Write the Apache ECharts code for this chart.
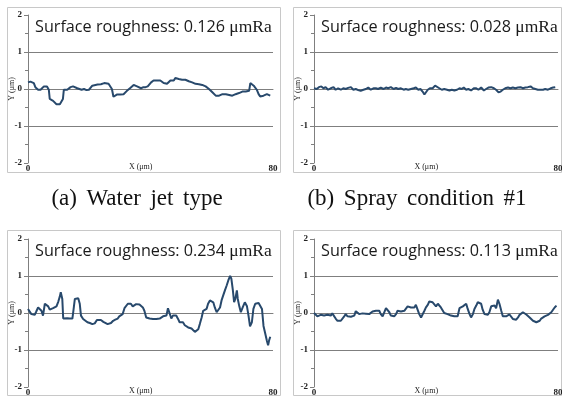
<!DOCTYPE html>
<html><head><meta charset="utf-8">
<script src="https://cdn.jsdelivr.net/npm/echarts@6/dist/echarts.min.js"></script>
<style>html,body{margin:0;padding:0;background:#fff}#c{width:562px;height:398px}</style>
</head><body><div id="c"></div>
<script>
// Panel texts
const roughnessLabels = ['0.126', '0.028', '0.234', '0.113'];
const captions = ['(a)\u2004\u200AWater\u2004\u200Ajet\u2004\u200Atype', '(b)\u2004\u200ASpray\u2004\u200Acondition\u2004\u200A#1'];
const xAxisName = 'X (μm)';
const yAxisName = 'Y (μm)';
const yTicks = [-2, -1, 0, 1, 2];
const xRange = [0, 80];

// Panel (a) water jet type
const xA = [0.0,0.8,1.3,1.9,2.4,3.3,4.1,4.6,5.2,5.7,6.2,6.8,7.1,7.7,8.2,8.8,9.3,9.9,10.4,11.0,11.4,11.7,12.3,12.8,13.4,13.9,14.7,15.3,16.1,16.7,17.5,18.3,19.1,19.9,20.5,21.0,21.6,22.7,23.8,24.3,24.9,25.4,26.3,26.9,27.4,27.9,28.5,29.0,29.6,30.1,30.7,31.2,31.8,32.3,32.9,33.4,34.0,34.5,35.1,35.6,36.2,36.9,37.7,38.4,39.1,39.7,40.2,41.0,41.5,42.1,42.6,43.2,43.7,44.3,44.8,45.4,45.9,46.5,47.0,47.6,48.1,48.7,49.2,49.8,50.3,50.9,51.4,52.0,52.5,53.0,53.6,54.1,54.7,55.2,55.8,56.3,56.9,57.4,58.0,58.5,59.1,59.6,60.2,60.7,61.3,61.8,62.4,62.9,63.5,64.0,64.6,65.1,65.7,66.2,66.7,67.3,67.8,68.4,68.9,69.5,70.0,70.6,71.1,71.7,72.2,72.6,73.1,73.7,74.2,74.7,75.3,75.8,76.4,76.9,77.5,78.0,78.6,79.1];
const yA = [0.18,0.20,0.20,0.16,0.05,-0.02,-0.02,0.00,0.07,0.12,0.07,-0.02,-0.27,-0.30,-0.32,-0.36,-0.41,-0.45,-0.41,-0.38,-0.27,-0.02,0.00,-0.02,0.02,0.05,0.07,0.05,0.02,0.00,-0.02,0.00,-0.03,-0.02,-0.05,0.09,0.12,0.12,0.13,0.14,0.16,0.13,0.14,0.09,0.00,-0.21,-0.16,-0.15,-0.12,-0.15,-0.11,-0.14,-0.09,-0.05,0.00,0.03,0.07,0.11,0.12,0.07,0.03,0.02,0.05,0.05,0.07,0.11,0.18,0.23,0.25,0.23,0.21,0.23,0.21,0.16,0.20,0.14,0.18,0.23,0.20,0.23,0.30,0.32,0.27,0.29,0.25,0.23,0.25,0.25,0.21,0.20,0.18,0.16,0.14,0.16,0.13,0.14,0.11,0.13,0.07,0.03,0.00,-0.05,-0.09,-0.14,-0.18,-0.20,-0.18,-0.16,-0.14,-0.12,-0.14,-0.12,-0.16,-0.14,-0.18,-0.16,-0.14,-0.12,-0.11,-0.09,-0.07,-0.09,-0.07,-0.07,-0.05,0.16,0.14,0.09,0.05,-0.02,-0.14,-0.20,-0.23,-0.18,-0.23,-0.14,-0.11,-0.18];

// Panel (b) spray condition #1
const xB = [0,0.9,1.6,2.4,3.1,3.8,4.6,5.5,6.4,7.1,7.9,8.8,9.6,10.4,11.2,12.1,12.9,13.7,14.5,15.3,16.2,17.0,17.8,18.6,19.5,20.3,21.0,21.9,22.8,23.6,24.3,25.2,26.1,26.9,27.6,28.5,29.4,30.1,30.9,31.8,32.7,33.4,34.2,34.9,35.6,36.2,36.7,37.3,38.0,38.9,39.7,40.3,41.1,41.9,42.7,43.6,44.4,45.2,46.0,46.9,47.7,48.4,49.1,49.9,50.6,51.5,52.4,53.2,53.9,54.8,55.7,56.4,57.2,58.1,59.0,59.7,60.5,61.2,61.9,62.7,63.6,64.4,65.2,66.0,66.9,67.7,68.5,69.3,70.1,71.0,71.8,72.6,73.4,74.3,75.1,75.8,76.7,77.6,78.4,79.1];
const yB = [0.02,0.0,0.05,0.07,0.02,0.05,-0.02,0.02,0.05,-0.02,0.02,-0.02,0.02,0.0,0.03,0.05,-0.02,0.0,-0.03,-0.05,-0.02,0.0,0.04,-0.02,0.02,0.02,0.0,0.04,0.0,0.04,0.02,0.05,0.0,0.03,0.0,0.02,-0.02,0.0,-0.02,0.0,0.02,0.04,-0.02,0.0,-0.07,-0.15,-0.14,-0.02,0.02,0.02,0.09,0.05,0.02,-0.02,0.0,-0.02,-0.04,-0.02,-0.04,-0.02,0.02,0.0,0.04,-0.02,0.0,-0.04,0.02,0.02,-0.02,0.04,-0.04,0.0,0.04,0.05,0.02,-0.02,-0.09,-0.07,-0.02,0.02,0.04,0.02,0.04,0.02,0.04,0.05,0.02,0.04,0.05,0.07,0.02,0.0,-0.02,-0.02,-0.02,0.0,-0.02,0.02,0.04,0.05];

// Panel (c)
const xC = [0,0.5,1.1,1.6,2.2,2.7,3.3,3.8,4.4,4.9,5.5,6.0,6.6,7.1,7.7,8.2,8.8,9.3,9.9,10.4,10.7,11.2,11.5,12.1,12.8,13.6,14.5,14.9,15.3,15.9,16.4,16.9,17.3,18.0,18.6,19.4,20.2,21.0,21.8,22.5,23.0,23.8,24.6,25.2,26.0,26.5,27.1,27.8,28.5,29.3,29.8,30.4,30.9,31.5,32.0,32.6,33.1,33.6,34.2,34.7,35.3,35.8,36.4,36.9,37.5,38.0,38.6,39.1,39.7,40.2,40.8,41.3,41.9,42.4,43.0,43.5,44.1,44.6,45.2,45.7,46.3,46.8,47.3,47.9,48.4,49.0,49.5,50.1,50.6,51.2,51.7,52.3,52.8,53.4,53.9,54.5,55.0,55.6,56.1,56.7,57.2,57.8,58.3,58.8,59.4,59.9,60.5,61.0,61.6,62.1,62.7,63.2,63.8,64.3,64.9,65.4,66.0,66.4,66.9,67.3,67.7,68.2,68.5,69.0,69.5,70.1,70.8,71.5,72.0,72.5,73.1,73.6,74.2,74.7,75.3,75.8,76.4,76.9,77.5,78.0,78.4,78.7,79.1];
const yC = [0.11,0.06,-0.03,-0.07,-0.05,0.04,0.15,0.13,0.06,-0.07,0.25,0.27,0.18,0.09,0.11,0.13,0.13,0.18,0.31,0.45,0.56,0.38,-0.15,-0.15,-0.14,-0.15,-0.15,0.11,0.38,0.43,0.40,0.25,-0.07,-0.16,-0.21,-0.25,-0.27,-0.30,-0.28,-0.19,-0.15,-0.19,-0.24,-0.27,-0.30,-0.33,-0.27,-0.21,-0.18,-0.15,-0.09,-0.09,-0.03,0.13,0.18,0.25,0.22,0.25,0.18,0.22,0.24,0.22,0.23,0.20,0.15,0.06,-0.12,-0.14,-0.15,-0.13,-0.16,-0.15,-0.16,-0.16,-0.15,-0.12,-0.09,-0.10,-0.07,0.13,0.15,-0.15,-0.07,-0.12,-0.07,-0.16,-0.25,-0.30,-0.25,-0.33,-0.33,-0.39,-0.35,-0.42,-0.44,-0.51,-0.48,-0.44,-0.30,-0.12,0.06,0.04,0.11,0.25,0.34,0.36,0.29,0.15,0.02,0.04,0.15,0.34,0.49,0.61,0.75,0.88,1.00,0.93,0.61,0.29,0.38,0.61,0.38,0.18,0.02,0.15,0.29,0.18,-0.07,-0.36,-0.25,0.11,0.25,0.27,0.27,0.25,0.11,-0.35,-0.57,-0.75,-0.87,-0.75,-0.64];

// Panel (d)
const xD = [0,0.5,1.1,1.6,2.2,2.7,3.3,3.8,4.4,4.9,5.5,6.0,6.6,7.1,7.7,8.2,8.8,9.3,9.9,10.4,11.0,11.5,12.1,12.6,13.2,13.7,14.2,14.8,15.3,15.9,16.4,17.0,17.5,18.1,18.6,19.2,19.7,20.3,20.8,21.4,21.9,22.5,23.0,23.6,24.1,24.7,25.2,25.8,26.3,26.9,27.4,27.9,28.5,29.0,29.6,30.1,30.7,31.2,31.8,32.3,32.9,33.4,34.0,34.5,35.1,35.6,36.2,36.7,37.3,37.8,38.4,38.9,39.5,40.0,40.6,41.1,41.6,42.2,42.7,43.3,43.8,44.4,44.9,45.5,46.0,46.6,47.1,47.7,48.2,48.8,49.3,49.9,50.4,51.0,51.5,52.1,52.6,53.2,53.7,54.3,54.8,55.3,55.9,56.4,57.0,57.5,58.1,58.6,59.2,59.7,60.3,60.8,61.4,61.9,62.5,63.0,63.6,64.1,64.7,65.2,65.8,66.3,66.9,67.4,68.0,68.5,69.0,69.6,70.1,70.7,71.2,71.8,72.3,72.9,73.4,74.0,74.5,75.1,75.6,76.2,76.7,77.3,77.8,78.4,78.9,79.5];
const yD = [0.0,-0.05,-0.09,-0.12,-0.05,-0.03,-0.07,-0.03,-0.05,-0.03,-0.07,-0.01,-0.05,-0.15,-0.21,-0.24,-0.21,-0.16,-0.09,-0.03,-0.09,-0.13,-0.10,-0.12,-0.07,0.05,0.02,-0.03,-0.05,-0.01,-0.05,-0.02,-0.07,-0.03,0.02,0.04,0.02,0.06,0.11,0.06,-0.03,-0.09,-0.07,0.13,0.09,0.02,-0.07,-0.12,-0.09,-0.03,0.06,0.09,0.04,0.0,0.06,0.02,0.18,0.22,0.15,0.18,0.15,0.22,0.18,-0.03,-0.12,-0.09,0.06,0.15,0.22,0.31,0.34,0.29,0.25,0.18,0.25,0.22,0.15,0.11,0.0,-0.03,-0.03,-0.05,-0.07,-0.03,-0.09,-0.12,-0.09,0.13,0.15,0.18,0.22,0.25,0.11,-0.03,-0.12,-0.03,0.11,0.20,0.29,0.29,0.25,0.09,-0.03,-0.07,-0.05,0.02,0.18,0.22,0.20,0.13,0.36,0.25,0.06,-0.09,-0.09,-0.09,-0.05,-0.04,-0.07,-0.16,-0.21,-0.18,-0.12,-0.05,-0.01,0.02,-0.01,-0.04,-0.07,-0.12,-0.16,-0.21,-0.24,-0.25,-0.25,-0.21,-0.15,-0.12,-0.09,-0.09,-0.05,-0.03,0.02,0.06,0.15,0.20];

const xs = [xA, xB, xC, xD];
const ys = [yA, yB, yC, yD];

const grids = [
  {left: 28, top: 15, width: 245, height: 148},
  {left: 314, top: 15, width: 244, height: 148},
  {left: 28, top: 239, width: 245, height: 148},
  {left: 314, top: 239, width: 244, height: 148}
];
const boxes = [[7,7,273,165],[293,7,268,165],[7,230,273,165],[293,230,268,165]];

const lineColor = '#28496c';
const axisColor = '#7f7f7f';
const tickFont = {fontFamily: 'Liberation Serif', fontWeight: 'bold', fontSize: 9, color: '#222'};
const nameFont = {fontFamily: 'Liberation Serif', fontSize: 8, fontWeight: 'normal', color: '#222'};

const panelTitles = roughnessLabels.map((v, i) => ({
  text: '{a|Surface roughness: ' + v + ' }{b|μmRa}',
  left: grids[i].left + 7,
  top: grids[i].top + 3,
  padding: 0,
  textStyle: {
    fontWeight: 'normal',
    rich: {
      a: {fontFamily: 'Open Sans', fontSize: 16.2, fontWeight: 'normal', color: '#1a1a1a'},
      b: {fontFamily: 'Liberation Serif', fontSize: 17.5, fontWeight: 'normal', color: '#1a1a1a'}
    }
  }
}));
const captionTitles = captions.map((c, i) => ({
  text: c, left: i === 0 ? 137 : 417, top: 187, textAlign: 'center', padding: 0,
  textStyle: {fontFamily: 'Liberation Serif', fontSize: 23, fontWeight: 'normal', color: '#111'}
}));
const xNameTitles = grids.map(g => ({
  text: xAxisName, left: g.left + g.width * 0.46, top: g.top + g.height, textAlign: 'center', padding: 0,
  textStyle: nameFont
}));
const yNameTexts = grids.map(g => ({
  type: 'text', x: g.left - 16, y: g.top + g.height / 2, rotation: Math.PI / 2,
  style: {text: yAxisName, font: '8px "Liberation Serif"', fill: '#222', align: 'center', verticalAlign: 'middle'},
  silent: true
}));

const option = {
  backgroundColor: '#fff',
  animation: false,
  grid: grids.map(g => Object.assign({containLabel: false, outerBoundsMode: 'none'}, g)),
  xAxis: grids.map((g, i) => ({
    gridIndex: i, type: 'value', min: xRange[0], max: xRange[1], interval: 80,
    axisLine: {show: true, lineStyle: {color: axisColor, width: 1}},
    axisTick: {show: false},
    axisLabel: Object.assign({margin: 1}, tickFont),
    splitLine: {show: false}
  })),
  yAxis: grids.map((g, i) => ({
    gridIndex: i, type: 'value', min: yTicks[0], max: yTicks[yTicks.length - 1], interval: 1,
    axisLine: {show: true, onZero: false, lineStyle: {color: axisColor, width: 1}},
    axisTick: {show: true, length: 4, lineStyle: {color: axisColor}},
    minorTick: {show: true, splitNumber: 2, length: 3, lineStyle: {color: axisColor}},
    axisLabel: Object.assign({margin: 6}, tickFont),
    splitLine: {show: true, lineStyle: {color: ['transparent', axisColor, axisColor, axisColor, 'transparent'], width: 1}}
  })),
  title: panelTitles.concat(captionTitles, xNameTitles),
  graphic: boxes.map(b => ({
    type: 'rect', shape: {x: b[0] + 0.5, y: b[1] + 0.5, width: b[2], height: b[3]},
    style: {fill: 'none', stroke: '#c8c8c8', lineWidth: 1}, silent: true, z: -1
  })).concat(yNameTexts),
  series: xs.map((x, i) => ({
    type: 'line', xAxisIndex: i, yAxisIndex: i,
    data: x.map((v, k) => [v, ys[i][k]]),
    showSymbol: false, symbol: 'none',
    lineStyle: {color: lineColor, width: 2}, z: 3
  }))
};

const chart = echarts.init(document.getElementById('c'), null, {renderer: 'canvas'});
chart.setOption(option);
</script>
</body></html>
